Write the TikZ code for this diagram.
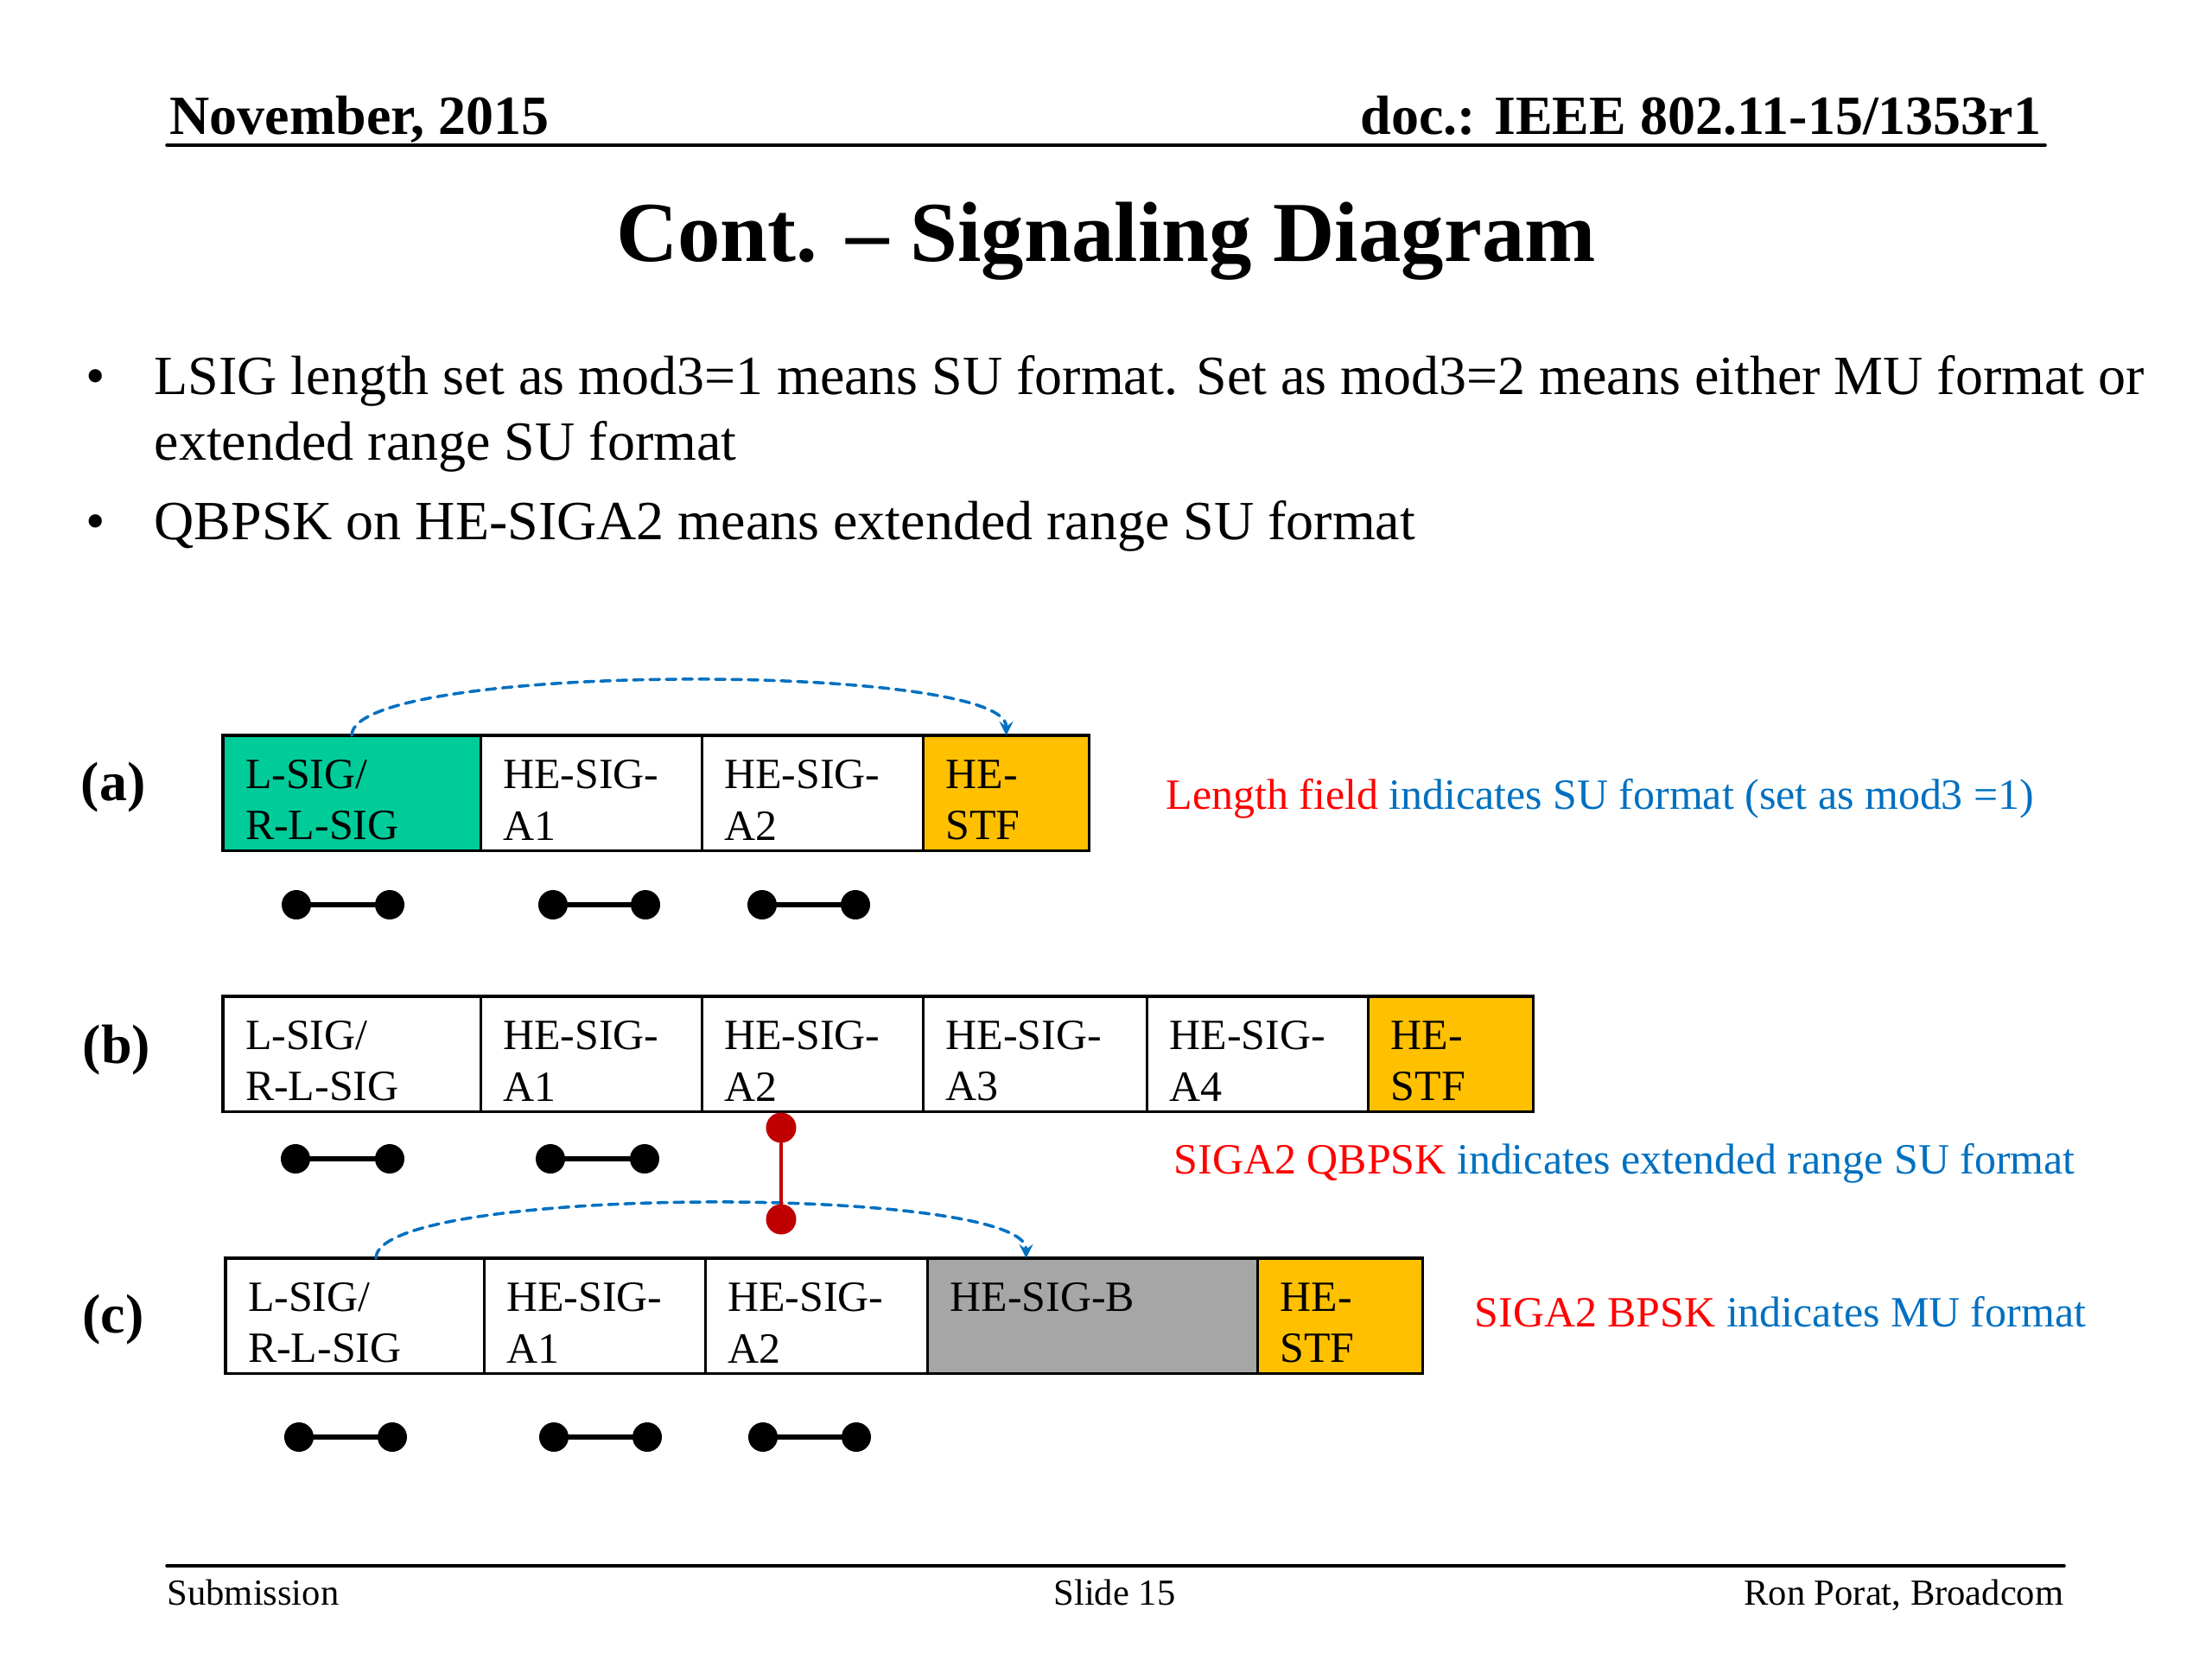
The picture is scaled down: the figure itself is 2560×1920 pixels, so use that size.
\documentclass[tikz,border=0pt]{standalone}
\usepackage{fontspec}
\setmainfont{Liberation Serif}
\usetikzlibrary{positioning}
\definecolor{sigteal}{RGB}{0,204,153}
\definecolor{stfgold}{RGB}{255,192,0}
\definecolor{siggrey}{RGB}{166,166,166}
\definecolor{notered}{RGB}{255,0,0}
\definecolor{noteblue}{RGB}{0,112,192}
\definecolor{dotred}{RGB}{192,0,0}

\begin{document}
\begin{tikzpicture}[x=0.01cm,y=-0.01cm,line cap=round]
	\tikzstyle{field}=[draw,line width=0.9pt,outer sep=0pt,anchor=north west,minimum height=1.33cm,inner xsep=0.26cm,inner ysep=0pt,align=left,font=\fontsize{14.2}{17}\selectfont,execute at begin node={\rule{0pt}{14pt}}];
	\tikzstyle{dumbdot}=[circle,fill=black,minimum size=0.34cm,inner sep=0pt];
	\tikzstyle{dumbbar}=[line width=1.8pt];
	\tikzstyle{reddot}=[circle,fill=dotred,minimum size=0.35cm,inner sep=0pt];
	\tikzstyle{sigarc}=[noteblue,dashed,dash pattern=on 3.2pt off 2.2pt,line width=1pt,->,>=stealth];
	\tikzstyle{note}=[anchor=base west,inner sep=0pt,text=noteblue,font=\fontsize{14.2}{17}\selectfont];
	\tikzstyle{bullet}=[anchor=base west,inner sep=0pt,font=\fontsize{18.2}{21.6}\selectfont];
	\tikzstyle{headtext}=[inner sep=0pt,font=\fontsize{18.2}{21}\selectfont\bfseries];
	\tikzstyle{rowlabel}=[font=\fontsize{18.2}{21.6}\selectfont\bfseries];
	\tikzstyle{foot}=[inner sep=0pt,font=\fontsize{12.1}{14}\selectfont];
	\useasboundingbox (0,0) rectangle (2560,1920);

	% header
	\node[headtext,anchor=base west] (date) at (196,155) {November, 2015};
	\node[headtext,anchor=base east] (docid) at (2363,155) {doc.: IEEE 802.11-15/1353r1};
	\draw[line width=1pt] (193,168) -- (2367,168);
	\node[anchor=base,inner sep=0pt,font=\fontsize{28.1}{32}\selectfont\bfseries] (title) at (1280,302) {Cont. – Signaling Diagram};

	% bullets
	\node[bullet,anchor=base] (dot1) at (111,456) {•};
	\node[bullet] (line1) at (178,456) {LSIG length set as mod3=1 means SU format. Set as mod3=2 means either MU format or};
	\node[bullet] (line2) at (178,532) {extended range SU format};
	\node[bullet,anchor=base] (dot2) at (111,624) {•};
	\node[bullet] (line3) at (178,624) {QBPSK on HE-SIGA2 means extended range SU format};

	% (a)
	\node[rowlabel] (laba) at (131,911) {(a)};
	\node[field,fill=sigteal,text width=2.46cm] (a1) at (258,851) {L-SIG/\\R-L-SIG};
	\node[field,text width=2.04cm,right=0pt of a1] (a2) {HE-SIG-\\A1};
	\node[field,text width=2.04cm,right=0pt of a2] (a3) {HE-SIG-\\A2};
	\node[field,fill=stfgold,text width=1.40cm,right=0pt of a3] (a4) {HE-\\STF};
	\draw[sigarc] (a1.north) .. controls +(0,-85) and +(0,-85) .. (a4.north);
	\node[note] (notea) at (1349,936) {\textcolor{notered}{Length field} indicates SU format (set as mod3 =1)};
	\node[dumbdot] (a1l) at (343,1047) {};
	\node[dumbdot] (a1r) at (451,1047) {};
	\node[dumbdot] (a2l) at (640,1047) {};
	\node[dumbdot] (a2r) at (747,1047) {};
	\node[dumbdot] (a3l) at (882,1047) {};
	\node[dumbdot] (a3r) at (990,1047) {};
	\draw[dumbbar] (a1l) -- (a1r);
	\draw[dumbbar] (a2l) -- (a2r);
	\draw[dumbbar] (a3l) -- (a3r);

	% (b)
	\node[rowlabel] (labb) at (135,1215) {(b)};
	\node[field,text width=2.46cm] (b1) at (258,1153) {L-SIG/\\R-L-SIG};
	\node[field,text width=2.04cm,right=0pt of b1] (b2) {HE-SIG-\\A1};
	\node[field,text width=2.04cm,right=0pt of b2] (b3) {HE-SIG-\\A2};
	\node[field,text width=2.07cm,right=0pt of b3] (b4) {HE-SIG-\\A3};
	\node[field,text width=2.04cm,right=0pt of b4] (b5) {HE-SIG-\\A4};
	\node[field,fill=stfgold,text width=1.39cm,right=0pt of b5] (b6) {HE-\\STF};
	\node[note] (noteb) at (1358,1358) {\textcolor{notered}{SIGA2 QBPSK} indicates extended range SU format};
	\node[dumbdot] (b1l) at (342,1341) {};
	\node[dumbdot] (b1r) at (451,1341) {};
	\node[dumbdot] (b2l) at (637,1341) {};
	\node[dumbdot] (b2r) at (746,1341) {};
	\draw[dumbbar] (b1l) -- (b1r);
	\draw[dumbbar] (b2l) -- (b2r);

	% (c)
	\node[rowlabel] (labc) at (131,1527) {(c)};
	\node[field,text width=2.47cm] (c1) at (261,1456) {L-SIG/\\R-L-SIG};
	\node[field,text width=2.04cm,right=0pt of c1] (c2) {HE-SIG-\\A1};
	\node[field,text width=2.05cm,right=0pt of c2] (c3) {HE-SIG-\\A2};
	\node[field,fill=siggrey,text width=3.30cm,right=0pt of c3] (c4) {HE-SIG-B\\\mbox{}};
	\node[field,fill=stfgold,text width=1.39cm,right=0pt of c4] (c5) {HE-\\STF};
	\draw[sigarc] ([xshift=0.245cm]c1.north) .. controls +(0,-85) and +(0,-85) .. ([xshift=1.14cm]c4.north west);
	\node[note] (notec) at (1706,1535) {\textcolor{notered}{SIGA2 BPSK} indicates MU format};
	\node[dumbdot] (c1l) at (346,1663) {};
	\node[dumbdot] (c1r) at (454,1663) {};
	\node[dumbdot] (c2l) at (641,1663) {};
	\node[dumbdot] (c2r) at (749,1663) {};
	\node[dumbdot] (c3l) at (883,1663) {};
	\node[dumbdot] (c3r) at (991,1663) {};
	\draw[dumbbar] (c1l) -- (c1r);
	\draw[dumbbar] (c2l) -- (c2r);
	\draw[dumbbar] (c3l) -- (c3r);

	% QBPSK link between (b) and (c)
	\node[reddot] (qtop) at (904,1305) {};
	\node[reddot] (qbot) at (904,1411) {};
	\draw[dotred,line width=1pt] (qtop) -- (qbot);

	% footer
	\draw[line width=1pt] (193,1812) -- (2389,1812);
	\node[foot,anchor=base west] (submit) at (193,1857) {Submission};
	\node[foot,anchor=base] (slide) at (1290,1857) {Slide 15};
	\node[foot,anchor=base east] (author) at (2389,1857) {Ron Porat, Broadcom};
\end{tikzpicture}
\end{document}
